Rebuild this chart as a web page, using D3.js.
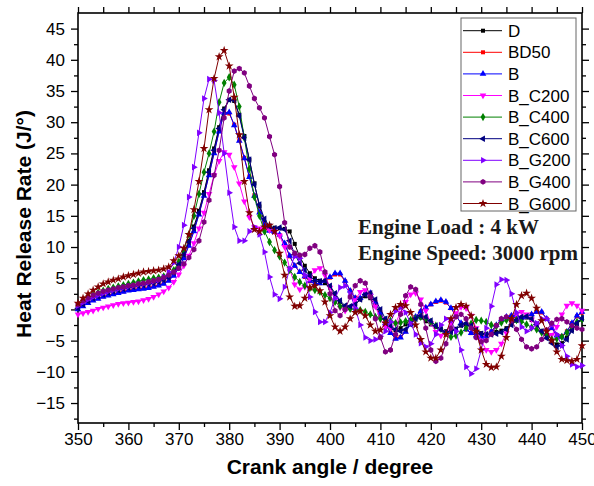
<!DOCTYPE html>
<html lang="en">
<head>
<meta charset="UTF-8">
<title>Heat release rate</title>
<script src="https://cdn.jsdelivr.net/npm/d3@7"></script>
<style>
  body { margin: 0; background: #fff; }
  svg { display: block; }
</style>
</head>
<body>
<script>
const width = 594;
const height = 486;
const marginTop = 13;
const marginRight = 12;
const marginBottom = 63;
const marginLeft = 78;

// crank angle grid of the measurement, 1 degree step
const angles = d3.range(350, 451);

const seriesNames = ["D", "BD50", "B", "B_C200", "B_C400", "B_C600", "B_G200", "B_G400", "B_G600"];

const hrrD = [
  0.3, 0.9, 1.4, 1.9, 2.3, 2.6, 2.9, 3.1, 3.3, 3.5,
  3.7, 3.8, 4.0, 4.1, 4.2, 4.4, 4.6, 4.9, 5.3, 6.1,
  7.3, 9.0, 11.0, 13.3, 15.8, 18.8, 22.3, 25.8, 29.2, 32.2,
  33.6, 33.4, 31.2, 27.8, 24.0, 20.2, 16.5, 14.0, 13.2, 13.1,
  13.0, 12.9, 12.5, 10.5, 8.4, 7.0, 5.8, 5.0, 4.6, 4.2,
  3.5, 2.4, 1.2, 0.4, 0.2, 0.8, 1.6, 2.1, 1.8, 0.6,
  -0.9, -2.2, -3.0, -3.3, -3.0, -2.4, -1.7, -1.2, -1.3, -1.9,
  -2.4, -2.8, -3.2, -3.5, -3.5, -3.1, -2.6, -2.4, -2.8, -3.4,
  -3.8, -3.9, -3.8, -3.6, -3.4, -3.0, -2.4, -1.8, -1.4, -1.3,
  -1.7, -2.5, -3.5, -4.4, -5.1, -5.6, -5.4, -4.5, -3.3, -2.3,
  -1.6
];

const hrrBD50 = [
  0.1, 0.6, 1.1, 1.5, 1.8, 2.1, 2.3, 2.5, 2.7, 2.9,
  3.1, 3.2, 3.3, 3.4, 3.5, 3.7, 3.9, 4.2, 4.7, 5.5,
  6.7, 8.3, 10.3, 12.6, 15.3, 18.3, 21.6, 25.1, 28.6, 31.4,
  31.4, 29.6, 27.1, 24.3, 21.3, 18.3, 15.6, 13.6, 12.7, 12.4,
  11.9, 10.5, 8.5, 7.0, 6.0, 5.2, 4.5, 4.1, 4.2, 4.6,
  5.1, 5.6, 5.6, 4.5, 3.0, 1.9, 1.8, 2.5, 2.5, 1.2,
  -0.5, -2.2, -3.7, -4.6, -4.4, -3.5, -2.3, -1.2, -0.3, 0.3,
  0.8, 1.2, 1.4, 1.1, 0.2, -1.0, -2.2, -3.2, -3.8, -4.2,
  -4.3, -4.2, -3.5, -2.5, -1.6, -1.2, -1.0, -1.0, -1.3, -1.2,
  -0.8, -0.4, -0.5, -1.5, -3.0, -4.1, -4.3, -3.5, -2.2, -1.1,
  -0.5
];

const hrrB = [
  0.0, 0.5, 1.0, 1.4, 1.7, 2.0, 2.2, 2.4, 2.6, 2.8,
  3.0, 3.1, 3.2, 3.3, 3.4, 3.6, 3.8, 4.1, 4.6, 5.4,
  6.6, 8.2, 10.2, 12.5, 15.2, 18.2, 21.5, 25.0, 28.5, 31.5,
  31.6, 29.5, 27.0, 24.2, 21.2, 18.2, 15.5, 13.5, 12.6, 12.4,
  12.0, 10.6, 8.6, 7.0, 6.0, 5.3, 4.6, 4.1, 4.2, 4.6,
  5.2, 5.8, 5.8, 4.6, 3.0, 1.8, 1.8, 2.6, 2.6, 1.2,
  -0.5, -2.2, -3.8, -4.7, -4.5, -3.6, -2.4, -1.2, -0.3, 0.3,
  0.8, 1.3, 1.5, 1.2, 0.2, -1.0, -2.2, -3.2, -3.8, -4.2,
  -4.4, -4.3, -3.6, -2.5, -1.6, -1.2, -1.0, -1.0, -1.3, -1.2,
  -0.8, -0.4, -0.4, -1.5, -3.0, -4.2, -4.4, -3.6, -2.2, -1.0,
  -0.4
];

const hrrBC200 = [
  -0.8, -0.6, -0.4, -0.2, 0.1, 0.3, 0.5, 0.7, 0.9, 1.0,
  1.1, 1.2, 1.3, 1.5, 1.7, 2.0, 2.4, 2.9, 3.5, 4.4,
  5.6, 7.0, 8.6, 10.6, 13.0, 15.5, 18.5, 21.5, 23.8, 25.2,
  24.8, 22.8, 20.2, 17.3, 14.8, 13.2, 13.0, 12.8, 12.7, 12.5,
  11.8, 10.0, 6.5, 4.0, 3.2, 3.6, 5.0, 6.3, 6.6, 5.5,
  3.5, 1.5, 0.3, -0.2, 0.3, 1.5, 2.8, 3.1, 2.2, 0.5,
  -1.5, -2.8, -3.0, -2.2, -0.5, 1.2, 2.4, 2.6, 1.6, -0.2,
  -2.2, -3.6, -4.2, -3.6, -2.2, -0.6, 0.4, 0.2, -1.0, -3.0,
  -5.0, -6.5, -6.8, -6.5, -5.5, -3.8, -2.0, -0.8, -0.4, -0.8,
  -1.6, -2.6, -3.5, -4.2, -4.1, -2.8, -0.8, 0.6, 1.0, 0.6,
  -0.2
];

const hrrBC400 = [
  0.5, 1.2, 1.8, 2.3, 2.7, 3.0, 3.3, 3.5, 3.7, 3.9,
  4.1, 4.3, 4.5, 4.7, 4.8, 5.0, 5.1, 5.3, 5.6, 6.3,
  7.6, 9.5, 12.0, 15.0, 18.5, 22.0, 25.0, 28.5, 33.2, 36.3,
  37.2, 36.0, 32.5, 27.5, 22.5, 18.0, 15.0, 12.5, 10.8, 9.5,
  8.5, 7.5, 6.3, 5.2, 4.4, 3.8, 3.4, 3.1, 2.8, 2.3,
  1.8, 1.2, 0.5, 0.3, 0.1, 0.0, -0.1, -0.4, -0.8, -1.2,
  -1.5, -1.7, -1.8, -2.2, -2.1, -1.9, -1.7, -1.5, -1.2, -1.4,
  -2.0, -2.6, -3.1, -3.8, -4.4, -4.2, -3.7, -3.0, -2.3, -1.7,
  -1.8, -2.0, -2.5, -2.7, -2.1, -1.7, -1.6, -1.7, -1.9, -2.4,
  -2.9, -3.2, -3.7, -4.1, -4.8, -4.7, -4.4, -3.7, -2.8, -2.0,
  -1.6
];

const hrrBC600 = [
  0.2, 0.8, 1.3, 1.8, 2.1, 2.4, 2.7, 2.9, 3.1, 3.3,
  3.5, 3.6, 3.8, 3.9, 4.1, 4.2, 4.4, 4.7, 5.1, 5.9,
  7.2, 8.8, 10.8, 13.0, 15.5, 18.5, 22.0, 25.5, 29.0, 32.0,
  33.6, 33.5, 31.0, 27.5, 24.0, 20.0, 16.8, 14.5, 13.3, 13.0,
  13.1, 12.8, 11.0, 8.8, 7.4, 6.3, 5.4, 4.6, 4.5, 4.6,
  3.8, 2.6, 1.4, 0.6, 0.5, 0.8, 1.6, 2.4, 2.6, 1.6,
  0.0, -1.5, -2.6, -3.2, -3.5, -3.2, -2.4, -1.5, -1.0, -1.2,
  -1.8, -2.6, -3.2, -3.6, -3.6, -3.2, -2.5, -2.2, -2.6, -3.3,
  -3.9, -4.0, -4.0, -3.9, -3.7, -3.2, -2.5, -1.7, -1.2, -1.1,
  -1.5, -2.4, -3.5, -4.6, -5.4, -6.0, -5.8, -4.8, -3.4, -2.2,
  -1.4
];

const hrrBG200 = [
  0.6, 1.1, 1.6, 2.0, 2.3, 2.6, 2.9, 3.1, 3.3, 3.5,
  3.7, 3.8, 4.0, 4.1, 4.3, 4.5, 4.7, 5.2, 6.0, 7.5,
  10.0, 13.5, 18.0, 22.8, 28.3, 33.8, 36.9, 36.7, 31.5, 25.0,
  18.7, 13.2, 11.0, 11.0, 12.5, 13.2, 12.0, 9.2, 5.2, 2.4,
  1.7, 3.6, 6.5, 8.5, 8.2, 5.5, 2.0, -0.4, -2.0, -2.0,
  -0.5, 1.8, 3.5, 3.8, 2.5, 0.2, -2.5, -4.5, -5.0, -4.8,
  -4.3, -3.5, -2.0, -0.3, 0.3, -0.5, -2.2, -4.0, -5.4, -6.0,
  -5.5, -4.0, -2.5, -1.5, -1.8, -3.5, -6.5, -9.2, -10.3, -9.5,
  -6.5, -3.0, 0.5, 4.0, 4.8, 4.7, 2.5, -0.5, -2.8, -3.5,
  -3.0, -2.2, -1.5, -1.5, -2.5, -4.0, -5.8, -7.5, -8.8, -9.2,
  -9.0
];

const hrrBG400 = [
  0.8, 1.4, 1.9, 2.3, 2.6, 2.9, 3.1, 3.3, 3.5, 3.6,
  3.8, 3.9, 4.1, 4.2, 4.4, 4.6, 4.8, 5.1, 5.5, 6.0,
  6.6, 7.3, 8.3, 9.6, 11.0, 14.0, 17.5, 21.5, 25.5, 30.7,
  35.0, 38.2, 38.6, 37.9, 35.8, 33.8, 32.3, 30.7, 27.7, 24.8,
  19.7, 13.9, 10.0, 9.0, 8.7, 8.8, 9.8, 10.2, 9.2, 6.0,
  2.5, -0.2, -1.0, 0.0, 2.0, 3.8, 4.6, 4.2, 2.0, -1.5,
  -4.5, -6.8, -6.5, -4.0, -0.8, 2.2, 3.6, 3.2, 0.8, -3.0,
  -6.5, -8.3, -7.8, -5.5, -3.0, -1.2, -0.8, -1.5, -3.0, -4.5,
  -5.2, -5.0, -4.0, -2.6, -1.5, -1.2, -1.8, -3.2, -4.8, -6.0,
  -6.3, -6.0, -4.8, -3.3, -2.2, -1.6, -1.5, -2.0, -2.6, -3.0,
  -3.2
];

const hrrBG600 = [
  1.0, 1.8, 2.5, 3.1, 3.6, 4.1, 4.4, 4.7, 4.9, 5.2,
  5.4, 5.6, 5.8, 6.0, 6.1, 6.2, 6.3, 6.5, 6.8, 7.8,
  8.6, 9.8, 12.0, 16.0, 20.5, 25.8, 32.0, 37.0, 40.5, 41.5,
  39.0, 34.0, 28.0, 20.5, 15.5, 12.8, 12.5, 13.2, 13.5, 12.5,
  9.0, 5.5, 2.0, 0.5, 0.6, 1.8, 3.5, 3.8, 3.0, 1.2,
  -1.0, -2.8, -3.5, -2.8, -1.5, -0.5, -0.3, -1.0, -2.5, -3.5,
  -3.3, -2.2, -0.8, 0.3, 0.8, 0.6, -0.5, -2.5, -4.8, -6.8,
  -7.8, -7.8, -6.5, -4.0, -1.5, 0.3, 0.8, 0.5, -1.0, -3.5,
  -6.5, -8.8, -9.3, -9.2, -7.5, -4.5, -1.5, 0.8, 2.2, 2.6,
  1.8, 0.2, -1.8, -3.5, -5.0, -6.8, -8.0, -8.2, -8.3, -8.0,
  -5.8
];

const seriesValues = [hrrD, hrrBD50, hrrB, hrrBC200, hrrBC400, hrrBC600, hrrBG200, hrrBG400, hrrBG600];

const xTicks = [350, 360, 370, 380, 390, 400, 410, 420, 430, 440, 450];
const xMinorTicks = [355, 365, 375, 385, 395, 405, 415, 425, 435, 445];
const yTicks = [-15, -10, -5, 0, 5, 10, 15, 20, 25, 30, 35, 40, 45];
const yMinorTicks = [-17.5, -12.5, -7.5, -2.5, 2.5, 7.5, 12.5, 17.5, 22.5, 27.5, 32.5, 37.5, 42.5];

// look of each series (Origin style)
const colors = ["#000000", "#ff0000", "#0000ff", "#ff00ff", "#008000", "#000080", "#8000ff", "#800080", "#800000"];
const hexagon = {
  draw(context, size) {
    const r = Math.sqrt(size / 2.6);
    for (let k = 0; k < 6; k++) {
      const a = Math.PI / 3 * k + Math.PI / 6;
      k ? context.lineTo(r * Math.cos(a), r * Math.sin(a)) : context.moveTo(r * Math.cos(a), r * Math.sin(a));
    }
    context.closePath();
  }
};
const markers = [
  { type: d3.symbolSquare, size: 16, rot: 0 },
  { type: d3.symbolSquare, size: 16, rot: 0 },
  { type: d3.symbolTriangle, size: 19, rot: 0 },
  { type: d3.symbolTriangle, size: 19, rot: 180 },
  { type: d3.symbolDiamond, size: 20, rot: 0 },
  { type: d3.symbolTriangle, size: 19, rot: -90 },
  { type: d3.symbolTriangle, size: 19, rot: 90 },
  { type: hexagon, size: 22, rot: 0 },
  { type: d3.symbolStar, size: 24, rot: 0 }
];

const x = d3.scaleLinear()
    .domain([350, 450])
    .range([marginLeft, width - marginRight]);

const y = d3.scaleLinear()
    .domain([-18.2, 47.5])
    .range([height - marginBottom, marginTop]);

const svg = d3.select("body").append("svg")
    .attr("width", width)
    .attr("height", height)
    .attr("viewBox", [0, 0, width, height])
    .style("background", "#fff");

const axisFont = "'Liberation Sans', Arial, sans-serif";

const styleAxis = g => g
    .attr("font-family", axisFont)
    .attr("font-size", 17)
    .call(g => g.select(".domain").remove())
    .call(g => g.selectAll("line").attr("stroke", "#000").attr("stroke-width", 1.3))
    .call(g => g.selectAll("text").attr("fill", "#000"));

const bottomY = height - marginBottom;
const rightX = width - marginRight;

// bottom
svg.append("g").attr("transform", `translate(0,${bottomY})`)
    .call(d3.axisBottom(x).tickValues(xTicks).tickSize(7).tickPadding(3).tickSizeOuter(0))
    .call(styleAxis);
svg.append("g").attr("transform", `translate(0,${bottomY})`)
    .call(d3.axisBottom(x).tickValues(xMinorTicks).tickSize(4).tickFormat("").tickSizeOuter(0))
    .call(styleAxis);
// top
svg.append("g").attr("transform", `translate(0,${marginTop})`)
    .call(d3.axisTop(x).tickValues(xTicks.concat(xMinorTicks)).tickSize(6).tickFormat("").tickSizeOuter(0))
    .call(styleAxis);
// left
svg.append("g").attr("transform", `translate(${marginLeft},0)`)
    .call(d3.axisLeft(y).tickValues(yTicks).tickSize(7).tickPadding(6).tickSizeOuter(0))
    .call(styleAxis);
svg.append("g").attr("transform", `translate(${marginLeft},0)`)
    .call(d3.axisLeft(y).tickValues(yMinorTicks).tickSize(4).tickFormat("").tickSizeOuter(0))
    .call(styleAxis);
// right
svg.append("g").attr("transform", `translate(${rightX},0)`)
    .call(d3.axisRight(y).tickValues(yTicks).tickSize(7).tickFormat("").tickSizeOuter(0))
    .call(styleAxis);
svg.append("g").attr("transform", `translate(${rightX},0)`)
    .call(d3.axisRight(y).tickValues(yMinorTicks).tickSize(4).tickFormat("").tickSizeOuter(0))
    .call(styleAxis);

// frame
svg.append("rect")
    .attr("x", marginLeft)
    .attr("y", marginTop)
    .attr("width", rightX - marginLeft)
    .attr("height", bottomY - marginTop)
    .attr("fill", "none")
    .attr("stroke", "#000")
    .attr("stroke-width", 1.6);

// series
const line = d3.line()
    .x((d, i) => x(angles[i]))
    .y(d => y(d));

const plot = svg.append("g");

seriesValues.forEach((values, s) => {
    const g = plot.append("g");
    g.append("path")
        .datum(values)
        .attr("fill", "none")
        .attr("stroke", colors[s])
        .attr("stroke-width", 1)
        .attr("d", line);
    const sym = d3.symbol(markers[s].type, markers[s].size);
    g.selectAll("path.pt")
        .data(values)
        .join("path")
        .attr("class", "pt")
        .attr("transform", (d, i) => `translate(${x(angles[i])},${y(d)}) rotate(${markers[s].rot})`)
        .attr("fill", colors[s])
        .attr("d", sym);
});

// legend
const legend = svg.append("g");
legend.append("rect")
    .attr("x", 461).attr("y", 18)
    .attr("width", 115).attr("height", 193)
    .attr("fill", "#fff")
    .attr("stroke", "#666")
    .attr("stroke-width", 1);

seriesNames.forEach((name, s) => {
    const ly = 30.7 + s * 21.6;
    const item = legend.append("g").attr("transform", `translate(0,${ly})`);
    item.append("line")
        .attr("x1", 463).attr("x2", 502)
        .attr("stroke", colors[s]).attr("stroke-width", 1);
    item.append("path")
        .attr("transform", `translate(483,0) rotate(${markers[s].rot})`)
        .attr("fill", colors[s])
        .attr("d", d3.symbol(markers[s].type, markers[s].size));
    item.append("text")
        .attr("x", 508).attr("y", 6)
        .attr("font-family", axisFont)
        .attr("font-size", 17)
        .attr("fill", "#000")
        .text(name);
});

// operating conditions
const note = svg.append("g")
    .attr("font-family", "'Liberation Serif', 'Times New Roman', serif")
    .attr("font-weight", "bold")
    .attr("font-size", 21)
    .attr("fill", "#1a1a1a");
note.append("text").attr("x", 358).attr("y", 234).text("Engine Load : 4 kW");
note.append("text").attr("x", 358).attr("y", 260).text("Engine Speed: 3000 rpm");

// axis titles
svg.append("text")
    .attr("x", (marginLeft + rightX) / 2)
    .attr("y", 474)
    .attr("text-anchor", "middle")
    .attr("font-family", axisFont)
    .attr("font-weight", "bold")
    .attr("font-size", 21)
    .text("Crank angle / degree");

svg.append("text")
    .attr("transform", `translate(31,224) rotate(-90)`)
    .attr("text-anchor", "middle")
    .attr("font-family", axisFont)
    .attr("font-weight", "bold")
    .attr("font-size", 21)
    .text("Heat Release Rate (J/°)");
</script>
</body>
</html>
